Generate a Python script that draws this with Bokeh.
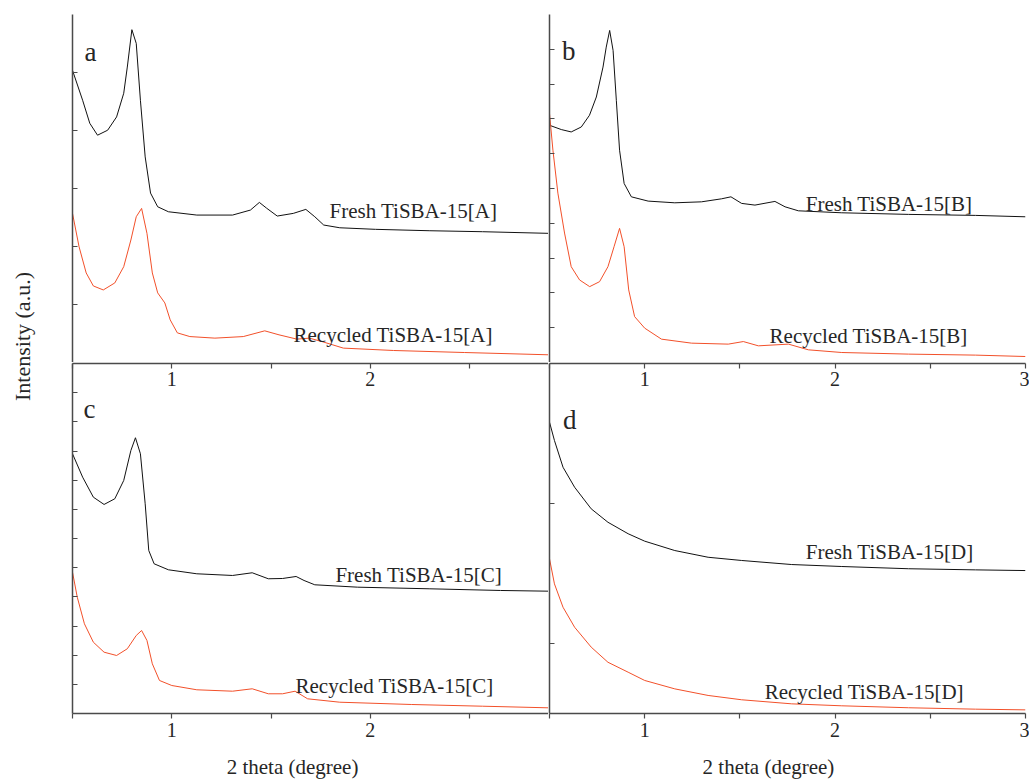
import numpy as np
from bokeh.plotting import figure
from bokeh.layouts import row, column
from bokeh.models import (Range1d, FixedTicker, CustomJSTickFormatter, Label,
                          LinearAxis)
from bokeh.embed import file_html
from bokeh.resources import INLINE
from bokeh.core.properties import value

# ---------------- data (2 theta in degree, intensity in a.u.) ----------------
a_fresh_x = [0.5, 0.551, 0.587, 0.626, 0.677, 0.722, 0.758, 0.776, 0.799, 0.821,
             0.842, 0.866, 0.893, 0.929, 0.983, 1.126, 1.306, 1.396, 1.441, 1.477,
             1.531, 1.612, 1.675, 1.72, 1.765, 1.846, 2.026, 2.296, 2.565, 2.896]
a_fresh_y = [5037, 4521, 4125, 3919, 4005, 4234, 4642, 5094, 5738, 5502,
             4521, 3545, 2921, 2685, 2599, 2542, 2542, 2628, 2760, 2662,
             2525, 2571, 2640, 2513, 2370, 2323, 2296, 2272, 2255, 2227]
a_rec_x = [0.5, 0.533, 0.569, 0.605, 0.655, 0.713, 0.758, 0.794, 0.821, 0.848,
           0.875, 0.902, 0.929, 0.965, 0.992, 1.028, 1.091, 1.217, 1.36, 1.468,
           1.54, 1.63, 1.693, 1.756, 1.864, 2.116, 2.475, 2.896]
a_rec_y = [2571, 1996, 1544, 1320, 1251, 1372, 1652, 2112, 2513, 2657,
           2227, 1544, 1200, 1027, 735, 511, 447, 420, 447, 546,
           477, 403, 420, 361, 248, 207, 172, 133]

b_fresh_x = [0.5, 0.562, 0.614, 0.667, 0.71, 0.746, 0.781, 0.798, 0.816, 0.834,
             0.851, 0.868, 0.892, 0.93, 1.018, 1.158, 1.298, 1.404, 1.453, 1.509,
             1.579, 1.684, 1.737, 1.807, 2.035, 2.386, 2.737, 3.0]
b_fresh_y = [6817, 6694, 6625, 6768, 7104, 7629, 8489, 9063, 9542, 8968,
             7534, 6100, 5145, 4761, 4638, 4589, 4617, 4704, 4761, 4572,
             4523, 4629, 4474, 4359, 4302, 4256, 4227, 4187]
b_rec_x = [0.5, 0.518, 0.544, 0.579, 0.614, 0.658, 0.711, 0.763, 0.807, 0.839,
           0.868, 0.892, 0.916, 0.947, 1.0, 1.088, 1.246, 1.439, 1.518, 1.597,
           1.755, 1.86, 2.035, 2.386, 2.737, 3.0]
b_rec_y = [7153, 6100, 4867, 3720, 2753, 2372, 2180, 2323, 2753, 3327,
           3855, 3327, 2085, 1319, 987, 671, 556, 528, 602, 479,
           528, 364, 287, 241, 212, 172]

c_fresh_x = [0.5, 0.551, 0.605, 0.659, 0.713, 0.758, 0.794, 0.817, 0.842, 0.866,
             0.884, 0.911, 0.983, 1.126, 1.306, 1.405, 1.486, 1.558, 1.626, 1.666,
             1.72, 1.936, 2.296, 2.655, 2.896]
c_fresh_y = [8905, 8103, 7417, 7167, 7362, 7990, 9018, 9454, 8905, 7191,
             5589, 5133, 4927, 4790, 4732, 4825, 4619, 4629, 4698, 4561,
             4413, 4331, 4276, 4218, 4194]
c_rec_x = [0.5, 0.524, 0.56, 0.605, 0.659, 0.722, 0.776, 0.821, 0.848, 0.875,
           0.902, 0.938, 1.0, 1.126, 1.306, 1.405, 1.486, 1.558, 1.621, 1.684,
           1.846, 2.206, 2.565, 2.896]
c_rec_y = [4845, 3988, 3076, 2445, 2102, 1989, 2219, 2675, 2846, 2503,
           1704, 1132, 960, 813, 765, 847, 676, 676, 765, 504,
           387, 309, 250, 195]

d_x = [0.5, 0.526, 0.571, 0.632, 0.719, 0.807, 0.913, 1.0, 1.158, 1.333,
       1.509, 1.772, 2.035, 2.386, 2.737, 3.0]
d_fresh_y = [2081, 1950, 1759, 1616, 1462, 1366, 1284, 1231, 1164, 1116,
             1093, 1064, 1050, 1034, 1026, 1021]
d_rec_y = [1105, 926, 759, 616, 474, 366, 295, 236, 176, 129,
           98, 69, 55, 41, 31, 26]

panel_letters = ["a", "b", "c", "d"]
fresh_names = ["Fresh TiSBA-15[A]", "Fresh TiSBA-15[B]",
               "Fresh TiSBA-15[C]", "Fresh TiSBA-15[D]"]
rec_names = ["Recycled TiSBA-15[A]", "Recycled TiSBA-15[B]",
             "Recycled TiSBA-15[C]", "Recycled TiSBA-15[D]"]
x_ticks_left = [0.5, 1.0, 1.5, 2.0, 2.5]
x_ticks_right = [0.5, 1.0, 1.5, 2.0, 2.5, 3.0]
x_title = "2 theta (degree)"
y_title = "Intensity (a.u.)"

# ---------------- styles ----------------
SERIF = "Liberation Serif"
AXIS_COLOR = "#4a4a4a"
TEXT_COLOR = "#262626"
BLACK = "#111111"
RED = "#f2502a"

int_fmt = "return Number.isInteger(tick) ? tick.toFixed(0) : '';"


def bare_figure(width, height, mb, xr, yr):
    p = figure(width=width, height=height, x_range=xr, y_range=yr,
               x_axis_location=None, y_axis_location=None,
               output_backend="svg", toolbar_location=None,
               min_border_left=mb[0], min_border_right=mb[1],
               min_border_top=mb[2], min_border_bottom=mb[3])
    p.center = []
    p.outline_line_color = None
    p.background_fill_color = "white"
    p.border_fill_color = "white"
    return p


def make_panel(width, height, mb, xr, yr, yticks):
    p = bare_figure(width, height, mb, Range1d(*xr), Range1d(*yr))
    yax = LinearAxis(ticker=FixedTicker(ticks=yticks),
                     formatter=CustomJSTickFormatter(code="return '';"),
                     major_tick_in=5, major_tick_out=0,
                     minor_tick_in=0, minor_tick_out=0,
                     major_label_standoff=0, major_label_text_font_size="0px",
                     axis_line_color=AXIS_COLOR, axis_line_width=1.5,
                     major_tick_line_color=AXIS_COLOR, major_tick_line_width=1)
    p.add_layout(yax, "left")
    return p


def add_x_axes(p, ticks):
    common = dict(ticker=FixedTicker(ticks=ticks),
                  formatter=CustomJSTickFormatter(code=int_fmt),
                  minor_tick_in=0, minor_tick_out=0,
                  major_label_text_font=SERIF, major_label_text_font_size="20px",
                  major_label_text_color=TEXT_COLOR,
                  axis_line_color=AXIS_COLOR, axis_line_width=1.5,
                  major_tick_line_color=AXIS_COLOR, major_tick_line_width=1.2)
    below = LinearAxis(major_tick_out=5, major_tick_in=0,
                       major_label_standoff=4, **common)
    p.add_layout(below, "below")
    above = LinearAxis(major_tick_out=0, major_tick_in=5,
                       major_label_standoff=-22, **common)
    p.add_layout(above, "above")


def add_texts(p, letter_pos, fresh_pos, rec_pos, i):
    p.add_layout(Label(x=letter_pos[0], y=letter_pos[1], text=panel_letters[i],
                       text_font=SERIF, text_font_size="27px",
                       text_color=TEXT_COLOR, text_baseline="alphabetic"))
    p.add_layout(Label(x=fresh_pos[0], y=fresh_pos[1], text=fresh_names[i],
                       text_font=SERIF, text_font_size="21px",
                       text_color=TEXT_COLOR, text_baseline="alphabetic"))
    p.add_layout(Label(x=rec_pos[0], y=rec_pos[1], text=rec_names[i],
                       text_font=SERIF, text_font_size="21px",
                       text_color=TEXT_COLOR, text_baseline="alphabetic"))


def title_strip(width, mb, xr, xpos):
    s = bare_figure(width, 34, (mb[0], mb[1], 0, 0), xr, Range1d(0, 1))
    s.text(x=[xpos], y=[0.4], text=[x_title], text_align="center",
           text_baseline="alphabetic", text_font=value(SERIF),
           text_font_size="21px", text_color=TEXT_COLOR)
    return s


LW = 1.0

# --- panel a (top-left)
pa = make_panel(508, 362, (32, 0, 14, 0), (0.5, 2.897), (0, 6000),
                [1000, 2000, 3000, 4000, 5000])
pa.line(a_fresh_x, a_fresh_y, line_color=BLACK, line_width=LW)
pa.line(a_rec_x, a_rec_y, line_color=RED, line_width=LW)
add_texts(pa, (0.56, 5347), (1.794, 2611), (1.613, 477), 0)

# --- panel b (top-right)
pb = make_panel(481, 362, (1, 4, 14, 0), (0.5, 3.0), (0, 10000),
                [1000, 2000, 3000, 4000, 5000, 6000, 7000, 8000, 9000])
pb.line(b_fresh_x, b_fresh_y, line_color=BLACK, line_width=LW)
pb.line(b_rec_x, b_rec_y, line_color=RED, line_width=LW)
add_texts(pb, (0.565, 8940), (1.846, 4552), (1.656, 766), 1)

# --- panel c (bottom-left)
pc = make_panel(508, 384, (32, 0, 1, 33), (0.5, 2.897), (0, 12000),
                [1000 * k for k in range(1, 12)])
pc.line(c_fresh_x, c_fresh_y, line_color=BLACK, line_width=LW)
pc.line(c_rec_x, c_rec_y, line_color=RED, line_width=LW)
add_x_axes(pc, x_ticks_left)
add_texts(pc, (0.555, 10424), (1.824, 4732), (1.623, 926), 2)

# --- panel d (bottom-right)
pd = make_panel(481, 384, (1, 4, 1, 33), (0.5, 3.0), (0, 2500), [500, 1500])
pd.line(d_x, d_fresh_y, line_color=BLACK, line_width=LW)
pd.line(d_x, d_rec_y, line_color=RED, line_width=LW)
add_x_axes(pd, x_ticks_right)
add_texts(pd, (0.571, 2100), (1.846, 1157), (1.63, 157), 3)

# --- x title strips (share the x scales of the panels above)
tl = title_strip(508, (32, 0), pc.x_range, 1.608)
tr = title_strip(481, (1, 4), pd.x_range, 1.65)

# --- y title strip
yl = bare_figure(40, 780, (0, 0, 0, 0), Range1d(0, 40), Range1d(0, 780))
yl.text(x=[22], y=[444], text=[y_title], angle=np.pi / 2,
        text_align="center", text_baseline="middle",
        text_font=value(SERIF), text_font_size="22px", text_color=TEXT_COLOR)

layout = row(yl, column(row(pa, pb), row(pc, pd), row(tl, tr)))

open("out.html", "w").write(file_html(layout, INLINE))
